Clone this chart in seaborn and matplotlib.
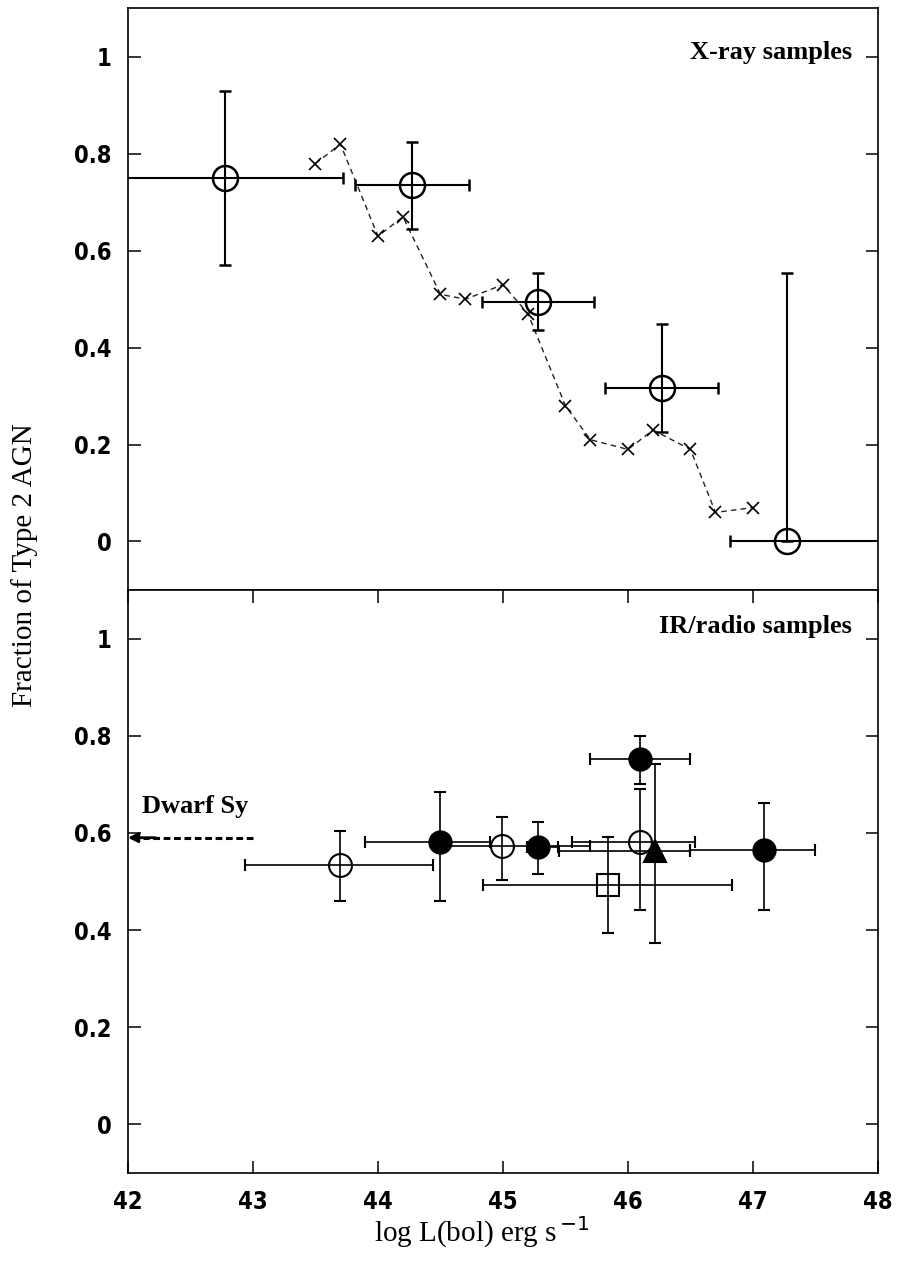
import numpy as np
import matplotlib
matplotlib.use("Agg")
import matplotlib.pyplot as plt
from matplotlib import font_manager
import seaborn as sns
import pandas as pd

# ---- X-ray samples (binned fractions) ----
xray_lum = [42.78, 44.27, 45.28, 46.27, 47.27]
xray_frac = [0.75, 0.735, 0.495, 0.317, 0.0]
xray_lum_lo = [41.80, 43.82, 44.83, 45.82, 46.82]
xray_lum_hi = [43.72, 44.73, 45.73, 46.72, 48.05]
xray_frac_lo = [0.57, 0.645, 0.436, 0.225, 0.0]
xray_frac_hi = [0.93, 0.825, 0.554, 0.449, 0.554]

# ---- X-ray luminosity-function curve ----
curve_lum = [43.5, 43.7, 44.0, 44.2, 44.5, 44.7, 45.0, 45.2,
             45.5, 45.7, 46.0, 46.2, 46.5, 46.7, 47.0]
curve_frac = [0.78, 0.82, 0.63, 0.67, 0.51, 0.50, 0.53, 0.47,
              0.28, 0.21, 0.19, 0.23, 0.19, 0.06, 0.07]

# ---- IR/radio samples ----
open_lum = [43.70, 44.99, 46.10]
open_frac = [0.533, 0.573, 0.582]
open_lum_lo = [42.94, 44.55, 45.55]
open_lum_hi = [44.44, 45.70, 46.54]
open_frac_lo = [0.46, 0.502, 0.442]
open_frac_hi = [0.603, 0.632, 0.69]

filled_lum = [44.50, 45.28, 46.10, 47.09]
filled_frac = [0.581, 0.571, 0.753, 0.564]
filled_lum_lo = [43.90, 45.19, 45.70, 46.50]
filled_lum_hi = [44.90, 45.44, 46.50, 47.50]
filled_frac_lo = [0.46, 0.515, 0.70, 0.441]
filled_frac_hi = [0.684, 0.622, 0.80, 0.662]

square_lum = [45.84]
square_frac = [0.493]
square_lum_lo = [44.84]
square_lum_hi = [46.83]
square_frac_lo = [0.393]
square_frac_hi = [0.591]

tri_lum = [46.22]
tri_frac = [0.563]
tri_lum_lo = [45.45]
tri_lum_hi = [46.50]
tri_frac_lo = [0.373]
tri_frac_hi = [0.741]

dwarf_lum_range = [43.0, 42.0]
dwarf_frac = 0.59

x_ticks = [42, 43, 44, 45, 46, 47, 48]
y_ticks = [0, 0.2, 0.4, 0.6, 0.8, 1.0]
y_tick_labels = ["0", "0.2", "0.4", "0.6", "0.8", "1"]

sns.set_theme(style="ticks")
plt.rcParams["font.family"] = ["Liberation Serif", "DejaVu Serif"]
plt.rcParams["text.color"] = "black"
plt.rcParams["axes.labelcolor"] = "black"
plt.rcParams["xtick.color"] = "black"
plt.rcParams["ytick.color"] = "black"

# condensed bold sans for the tick numbers
installed = {f.name for f in font_manager.fontManager.ttflist}
tick_family = [n for n in ["Liberation Sans Narrow", "DejaVu Sans"] if n in installed]
tick_font = dict(family=tick_family, weight="bold", size=17,
                 stretch="condensed", color="black")
label_font = dict(family=["Liberation Serif", "DejaVu Serif"], size=21, color="black")
note_font = dict(family=["Liberation Serif", "DejaVu Serif"], weight="bold", size=19,
                 color="black")

fig = plt.figure(figsize=(8.98, 12.63), dpi=100)
ax_top = fig.add_axes([0.1425, 0.5329, 0.8352, 0.4604])
ax_bot = fig.add_axes([0.1425, 0.0713, 0.8352, 0.4616])


def asym(vals, lo, hi):
    v = np.asarray(vals)
    return [v - np.asarray(lo), np.asarray(hi) - v]


def draw_err(ax, x, y, xlo, xhi, ylo, yhi, marker, ms, mfc, lw, cap):
    ax.errorbar(x, y, xerr=asym(x, xlo, xhi), yerr=asym(y, ylo, yhi),
                fmt=marker, ms=ms, mfc=mfc, mec="black", mew=lw + 0.3,
                ecolor="black", elinewidth=lw, capsize=cap, capthick=lw,
                color="black", zorder=3)


# top panel
draw_err(ax_top, xray_lum, xray_frac, xray_lum_lo, xray_lum_hi,
         xray_frac_lo, xray_frac_hi, "o", 18, "none", 1.5, 4.5)
curve = pd.DataFrame({"lum": curve_lum, "frac": curve_frac})
sns.lineplot(data=curve, x="lum", y="frac", ax=ax_top, color="#222222",
             linestyle=(0, (4, 3)), linewidth=1.0, marker="x", markersize=8,
             markeredgewidth=1.2, markeredgecolor="black", sort=False, zorder=2)
ax_top.text(47.79, 1.01, "X-ray samples", ha="right", va="center", **note_font)

# bottom panel
draw_err(ax_bot, open_lum, open_frac, open_lum_lo, open_lum_hi,
         open_frac_lo, open_frac_hi, "o", 16.5, "none", 1.2, 4.5)
draw_err(ax_bot, filled_lum, filled_frac, filled_lum_lo, filled_lum_hi,
         filled_frac_lo, filled_frac_hi, "o", 16, "black", 1.2, 4.5)
draw_err(ax_bot, square_lum, square_frac, square_lum_lo, square_lum_hi,
         square_frac_lo, square_frac_hi, "s", 16, "none", 1.2, 4.5)
draw_err(ax_bot, tri_lum, tri_frac, tri_lum_lo, tri_lum_hi,
         tri_frac_lo, tri_frac_hi, "^", 16, "black", 1.2, 4.5)

ax_bot.plot([dwarf_lum_range[0], dwarf_lum_range[1] + 0.12], [dwarf_frac, dwarf_frac],
            color="black", linestyle=(0, (2.2, 1.2)), linewidth=2.2, zorder=3)
ax_bot.annotate("", xy=(dwarf_lum_range[1], dwarf_frac),
                xytext=(dwarf_lum_range[1] + 0.22, dwarf_frac),
                arrowprops=dict(arrowstyle="-|>", color="black", lw=2.0,
                                mutation_scale=14, shrinkA=0, shrinkB=0),
                annotation_clip=False, zorder=4)
ax_bot.text(42.11, 0.64, "Dwarf Sy", ha="left", va="baseline", **note_font)
ax_bot.text(47.79, 1.025, "IR/radio samples", ha="right", va="center", **note_font)

for ax in (ax_top, ax_bot):
    ax.set_xlim(42, 48)
    ax.set_ylim(-0.1, 1.1)
    ax.set_yticks(y_ticks)
    ax.set_yticklabels(y_tick_labels, fontdict=tick_font)
    ax.set_xticks(x_ticks)
    ax.tick_params(axis="both", direction="in", length=9, width=1.1,
                   color="black", pad=12)
    ax.tick_params(axis="y", left=True, right=True)
    ax.set_xlabel("")
    ax.set_ylabel("")
    for s in ax.spines.values():
        s.set_visible(True)
        s.set_color("black")
        s.set_linewidth(1.2)

ax_top.tick_params(axis="x", bottom=False, top=False, labelbottom=False)
ax_bot.tick_params(axis="x", bottom=True, top=True, labelbottom=True)
ax_bot.set_xticklabels([str(t) for t in x_ticks], fontdict=tick_font)
ax_bot.tick_params(axis="x", pad=12)

fig.text(0.537, 0.024, r"log L(bol) erg s$^{\,\mathsf{-1}}$", ha="center", va="center",
         **label_font)
fig.text(0.027, 1 - 565 / 1263, "Fraction of Type 2 AGN", rotation=90,
         ha="center", va="center", **label_font)

fig.savefig("out.png", dpi=100)
